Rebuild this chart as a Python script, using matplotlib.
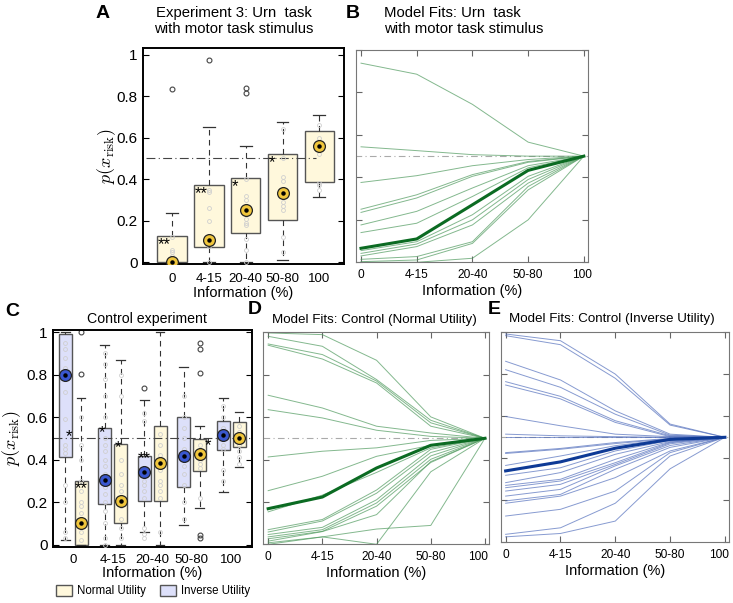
import numpy as np
import matplotlib.pyplot as plt
import matplotlib.transforms as mtransforms
from matplotlib.patches import Patch

plt.rcParams['font.family'] = ['Liberation Sans', 'DejaVu Sans']
plt.rcParams['mathtext.fontset'] = 'cm'

info_labels = ['0', '4-15', '20-40', '50-80', '100']

# ---- panel A: experiment 3 boxplots
a_q1 = [0.0, 0.074, 0.142, 0.203, 0.384]
a_q3 = [0.126, 0.373, 0.405, 0.523, 0.633]
a_lo = [0.0, 0.0, 0.0, 0.011, 0.313]
a_hi = [0.236, 0.652, 0.558, 0.676, 0.709]
a_mean = [0.0, 0.105, 0.25, 0.334, 0.558]
a_fliers = [[0.835], [0.975], [0.814, 0.838], [], []]
a_stars = ['**', '**', '*', '*', '']
a_dots = [[0.0, 0.01, 0.03, 0.05, 0.06, 0.12],
          [0.0, 0.08, 0.10, 0.20, 0.26, 0.34, 0.35],
          [0.0, 0.06, 0.11, 0.18, 0.19, 0.21, 0.30, 0.32, 0.40],
          [0.05, 0.12, 0.25, 0.27, 0.29, 0.39, 0.41, 0.50, 0.64],
          [0.35, 0.37, 0.38, 0.52, 0.60, 0.66]]

# ---- panel B: model fits, urn task
b_fits = [[0.938, 0.886, 0.744, 0.566, 0.5],
          [0.544, 0.526, 0.507, 0.5, 0.5],
          [0.376, 0.408, 0.455, 0.484, 0.5],
          [0.25, 0.318, 0.413, 0.475, 0.5],
          [0.235, 0.303, 0.405, 0.471, 0.5],
          [0.176, 0.24, 0.35, 0.455, 0.5],
          [0.14, 0.184, 0.31, 0.445, 0.5],
          [0.055, 0.097, 0.224, 0.405, 0.5],
          [0.042, 0.086, 0.2, 0.39, 0.5],
          [0.03, 0.074, 0.176, 0.373, 0.5],
          [0.014, 0.027, 0.097, 0.357, 0.5],
          [0.003, 0.011, 0.089, 0.341, 0.5],
          [0.0, 0.0, 0.019, 0.2, 0.5]]
b_mean = [0.066, 0.11, 0.271, 0.433, 0.5]

# ---- panel C: control experiment (inverse = blue, normal = yellow)
c_inv_q1 = [0.413, 0.19, 0.205, 0.27, 0.444]
c_inv_q3 = [0.99, 0.548, 0.417, 0.599, 0.583]
c_inv_lo = [0.023, 0.0, 0.06, 0.09, 0.249]
c_inv_hi = [1.0, 0.941, 0.679, 0.838, 0.688]
c_inv_mean = [0.796, 0.302, 0.343, 0.418, 0.517]
c_inv_fliers = [[], [], [0.738], [], []]
c_nor_q1 = [0.0, 0.102, 0.205, 0.347, 0.457]
c_nor_q3 = [0.298, 0.475, 0.556, 0.495, 0.575]
c_nor_lo = [0.0, 0.0, 0.0, 0.17, 0.367]
c_nor_hi = [0.688, 0.87, 1.0, 0.556, 0.626]
c_nor_mean = [0.10, 0.204, 0.386, 0.424, 0.501]
c_nor_fliers = [[0.804, 1.0], [], [], [0.807, 0.92, 0.95, 0.03, 0.045], []]
c_inv_dots = [[0.03, 0.06, 0.2, 0.28, 0.43, 0.45, 0.47, 0.59, 0.72, 0.83, 0.88, 0.92, 0.95],
              [0.0, 0.03, 0.1, 0.16, 0.2, 0.24, 0.27, 0.33, 0.37, 0.4, 0.44, 0.47, 0.5, 0.6, 0.7, 0.78, 0.85, 0.9],
              [0.03, 0.05, 0.08, 0.22, 0.25, 0.28, 0.3, 0.36, 0.58, 0.62],
              [0.12, 0.2, 0.28, 0.33, 0.37, 0.43, 0.45, 0.5, 0.55, 0.6, 0.7],
              [0.3, 0.35, 0.45, 0.47, 0.5, 0.53, 0.55, 0.6, 0.65]]
c_nor_dots = [[0.02, 0.06, 0.1, 0.15, 0.18, 0.2, 0.25, 0.3, 0.4, 0.47, 0.6],
              [0.03, 0.08, 0.12, 0.18, 0.25, 0.28, 0.33, 0.4, 0.7, 0.8],
              [0.06, 0.22, 0.25, 0.28, 0.3, 0.35, 0.42, 0.47, 0.52],
              [0.22, 0.36, 0.38, 0.4, 0.42, 0.44, 0.47],
              [0.38, 0.41, 0.44, 0.47, 0.5, 0.53, 0.56]]
# (group, series, text, x offset, y)
c_stars = [(0, 'inv', '*', 0.02, 0.545), (0, 'nor', '**', -0.17, 0.3),
           (1, 'inv', '*', -0.15, 0.56), (1, 'nor', '*', -0.15, 0.49),
           (2, 'inv', '**', -0.17, 0.44), (3, 'nor', '*', 0.12, 0.50)]

# ---- panel D: model fits, control normal utility
d_fits = [[0.997, 0.989, 0.868, 0.601, 0.5],
          [0.981, 0.934, 0.777, 0.585, 0.5],
          [0.945, 0.895, 0.77, 0.573, 0.5],
          [0.939, 0.874, 0.761, 0.557, 0.5],
          [0.703, 0.643, 0.557, 0.525, 0.5],
          [0.635, 0.596, 0.538, 0.509, 0.5],
          [0.412, 0.439, 0.455, 0.49, 0.5],
          [0.253, 0.321, 0.415, 0.467, 0.5],
          [0.153, 0.232, 0.339, 0.455, 0.5],
          [0.069, 0.117, 0.256, 0.448, 0.5],
          [0.058, 0.11, 0.241, 0.433, 0.5],
          [0.046, 0.08, 0.21, 0.417, 0.5],
          [0.035, 0.069, 0.195, 0.401, 0.5],
          [0.026, 0.061, 0.18, 0.386, 0.5],
          [0.015, 0.06, 0.14, 0.39, 0.5],
          [0.007, 0.035, 0.072, 0.089, 0.5],
          [0.0, 0.035, 0.0, 0.342, 0.5]]
d_mean = [0.168, 0.223, 0.36, 0.467, 0.5]

# ---- panel E: model fits, control inverse utility
e_fits = [[0.992, 0.96, 0.801, 0.563, 0.5],
          [0.984, 0.941, 0.781, 0.558, 0.5],
          [0.862, 0.773, 0.626, 0.515, 0.5],
          [0.822, 0.738, 0.61, 0.51, 0.5],
          [0.765, 0.695, 0.579, 0.507, 0.5],
          [0.749, 0.683, 0.571, 0.503, 0.5],
          [0.599, 0.555, 0.515, 0.503, 0.5],
          [0.515, 0.507, 0.503, 0.5, 0.5],
          [0.5, 0.5, 0.5, 0.5, 0.5],
          [0.427, 0.447, 0.475, 0.495, 0.5],
          [0.423, 0.443, 0.47, 0.493, 0.5],
          [0.366, 0.411, 0.46, 0.492, 0.5],
          [0.319, 0.355, 0.435, 0.485, 0.5],
          [0.284, 0.332, 0.419, 0.48, 0.5],
          [0.271, 0.3, 0.395, 0.477, 0.5],
          [0.26, 0.292, 0.379, 0.474, 0.5],
          [0.244, 0.276, 0.371, 0.469, 0.5],
          [0.22, 0.252, 0.364, 0.461, 0.5],
          [0.197, 0.228, 0.348, 0.452, 0.5],
          [0.186, 0.22, 0.308, 0.435, 0.5],
          [0.125, 0.157, 0.244, 0.427, 0.5],
          [0.038, 0.069, 0.186, 0.411, 0.5],
          [0.026, 0.042, 0.101, 0.35, 0.5]]
e_mean = [0.34, 0.383, 0.448, 0.49, 0.5]

YEL_FILL, YEL_MARK = '#fff8dc', '#f0c63c'
BLU_FILL, BLU_MARK = '#dde0fa', '#3a57cf'

W, H = 733, 603
fig = plt.figure(figsize=(W / 100, H / 100), dpi=100)


def px_axes(x0, y0, x1, y1):
    return fig.add_axes([x0 / W, 1 - y1 / H, (x1 - x0) / W, (y1 - y0) / H])


def ftext(x, y, s, **kw):
    fig.text(x / W, 1 - y / H, s, **kw)


def make_stats(q1, q3, lo, hi, fliers):
    return [dict(q1=a, q3=b, whislo=c, whishi=d, med=(a + b) / 2, fliers=f)
            for a, b, c, d, f in zip(q1, q3, lo, hi, fliers)]


def draw_boxes(ax, stats, pos, width, fill, capw):
    ax.bxp(stats, positions=pos, widths=width, patch_artist=True, manage_ticks=False,
           boxprops=dict(facecolor=fill, edgecolor='#555555', linewidth=1.0),
           whiskerprops=dict(color='#333333', linestyle=(0, (5, 4)), linewidth=0.8),
           capprops=dict(color='#333333', linewidth=0.9),
           medianprops=dict(linewidth=0),
           flierprops=dict(marker='o', markerfacecolor='none', markeredgecolor='#444444',
                           markersize=3.5, markeredgewidth=0.8),
           capwidths=capw)


def draw_dots(ax, pos, dots):
    for p, vals in zip(pos, dots):
        ax.plot([p] * len(vals), vals, 'o', mfc='none', mec='#cfcfcf', ms=2.8, mew=0.6, zorder=3)


def draw_means(ax, pos, means, color):
    ax.plot(pos, means, 'o', mfc=color, mec='#222222', ms=8.5, mew=0.9, ls='none', zorder=5)
    ax.plot(pos, means, 'o', color='black', ms=2.2, ls='none', zorder=6)


def fit_axes(ax, fits, mean, thin, thick, last_shift):
    x = np.arange(5)
    for row in fits:
        ax.plot(x, row, color=thin, lw=0.7, alpha=0.7)
    ax.plot(x, mean, color=thick, lw=2.2, zorder=4)
    ax.plot([-0.1, 4.1], [0.5, 0.5], color='#aaaaaa', lw=0.8, ls=(0, (6, 3, 1, 3)), zorder=1)
    ax.set_xlim(-0.09, 4.08)
    ax.set_ylim(0, 1.0)
    ax.set_xticks(x)
    ax.set_xticklabels(info_labels, fontsize=8.6)
    ax.set_yticks([0, 0.2, 0.4, 0.6, 0.8, 1.0])
    ax.set_yticklabels([])
    ax.tick_params(direction='in', top=True, right=True, length=4, color='#666666', pad=5)
    for s in ax.spines.values():
        s.set_color('#777777')
        s.set_linewidth(0.8)
    ax.set_xlabel('Information (%)', fontsize=10.5, labelpad=2)
    lab = ax.get_xticklabels()[-1]
    lab.set_transform(lab.get_transform() +
                      mtransforms.ScaledTranslation(-last_shift / 100, 0, fig.dpi_scale_trans))


ytick_vals = [0, 0.2, 0.4, 0.6, 0.8, 1.0]
ytick_labs = ['0', '0.2', '0.4', '0.6', '0.8', '1']

# ---------------- A
axA = px_axes(142.7, 48.3, 344, 264.3)
posA = np.arange(5)
draw_boxes(axA, make_stats(a_q1, a_q3, a_lo, a_hi, a_fliers), posA, 0.8, YEL_FILL, 0.32)
draw_dots(axA, posA, a_dots)
draw_means(axA, posA, a_mean, YEL_MARK)
axA.plot([-0.7, 3.9], [0.5, 0.5], color='#444444', lw=0.8, ls=(0, (8, 3, 1, 3)), zorder=2)
for p, s, top in zip(posA, a_stars, a_q3):
    if s:
        axA.text(p - 0.38, top - 0.005, s, fontsize=12, va='top', ha='left', zorder=7)
axA.set_xlim(-0.8, 4.67)
axA.set_ylim(-0.01, 1.03)
axA.set_xticks(posA)
axA.set_xticklabels(info_labels, fontsize=9.5)
axA.set_yticks(ytick_vals)
axA.set_yticklabels(ytick_labs, fontsize=11)
axA.tick_params(axis='x', length=0, pad=6)
axA.tick_params(axis='y', direction='in', right=True, length=4)
for s in axA.spines.values():
    s.set_linewidth(1.4)
axA.set_xlabel('Information (%)', fontsize=10.5, labelpad=1)
ftext(103, 14, 'A', fontsize=14, fontweight='bold', ha='center', va='center')
ftext(234, 21, 'Experiment 3: Urn  task\nwith motor task stimulus', fontsize=10.7,
      ha='center', va='center', linespacing=1.25)
ftext(107, 156, r'$p(x_{\mathrm{risk}})$', fontsize=13, rotation=90, ha='center', va='center')

# ---------------- B
axB = px_axes(356, 50, 588.3, 262.3)
fit_axes(axB, b_fits, b_mean, '#4f9a5e', '#0b6b22', 2)
ftext(353, 14, 'B', fontsize=14, fontweight='bold', ha='center', va='center')
ftext(384, 21, 'Model Fits: Urn  task\nwith motor task stimulus', fontsize=10.7,
      ha='left', va='center', linespacing=1.25)

# ---------------- C
axC = px_axes(52.7, 330, 251.7, 546.7)
posC = np.arange(5)
off = 0.2
draw_boxes(axC, make_stats(c_inv_q1, c_inv_q3, c_inv_lo, c_inv_hi, c_inv_fliers),
           posC - off, 0.33, BLU_FILL, 0.22)
draw_boxes(axC, make_stats(c_nor_q1, c_nor_q3, c_nor_lo, c_nor_hi, c_nor_fliers),
           posC + off, 0.33, YEL_FILL, 0.22)
draw_dots(axC, posC - off, c_inv_dots)
draw_dots(axC, posC + off, c_nor_dots)
draw_means(axC, posC - off, c_inv_mean, BLU_MARK)
draw_means(axC, posC + off, c_nor_mean, YEL_MARK)
axC.plot([-0.5, 4.5], [0.5, 0.5], color='#444444', lw=0.8, ls=(0, (8, 3, 1, 3)), zorder=2)
for g, ser, s, dx, y in c_stars:
    base = g - off if ser == 'inv' else g + off
    axC.text(base + dx, y, s, fontsize=12, va='top', ha='left', zorder=7)
axC.set_xlim(-0.52, 4.52)
axC.set_ylim(-0.01, 1.01)
axC.set_xticks(posC)
axC.set_xticklabels(info_labels, fontsize=9.5)
axC.set_yticks(ytick_vals)
axC.set_yticklabels(ytick_labs, fontsize=11)
axC.tick_params(axis='x', length=0, pad=5)
axC.tick_params(axis='y', direction='in', right=True, length=4)
for s in axC.spines.values():
    s.set_linewidth(1.4)
axC.set_xlabel('Information (%)', fontsize=10.5, labelpad=0)
ftext(12, 312, 'C', fontsize=14, fontweight='bold', ha='center', va='center')
ftext(147, 319, 'Control experiment', fontsize=10.2, ha='center', va='center')
ftext(12, 438, r'$p(x_{\mathrm{risk}})$', fontsize=13, rotation=90, ha='center', va='center')

handles = [Patch(facecolor=YEL_FILL, edgecolor='#555555', label='Normal Utility'),
           Patch(facecolor=BLU_FILL, edgecolor='#555555', label='Inverse Utility')]
fig.legend(handles=handles, loc='center', bbox_to_anchor=(153 / W, 1 - 591 / H), ncol=2,
           frameon=False, fontsize=8.3, handlelength=1.4, handleheight=1.1,
           columnspacing=1.2, handletextpad=0.4)

# ---------------- D
axD = px_axes(263.3, 332.3, 489.3, 544.3)
fit_axes(axD, d_fits, d_mean, '#4f9a5e', '#0b6b22', 7)
ftext(255, 310, 'D', fontsize=14, fontweight='bold', ha='center', va='center')
ftext(374, 320, 'Model Fits: Control (Normal Utility)', fontsize=9.6, ha='center', va='center')

# ---------------- E
axE = px_axes(500.7, 332.3, 729.3, 542.3)
fit_axes(axE, e_fits, e_mean, '#5470bd', '#0e3a96', 6)
ftext(494, 310, 'E', fontsize=14, fontweight='bold', ha='center', va='center')
ftext(612, 319, 'Model Fits: Control (Inverse Utility)', fontsize=9.6, ha='center', va='center')

fig.savefig('out.png', dpi=100)
